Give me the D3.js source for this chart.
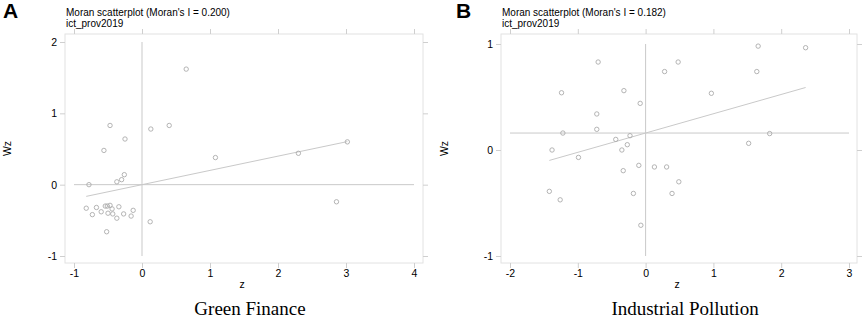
<!DOCTYPE html>
<html>
<head>
<meta charset="utf-8">
<script src="https://cdn.jsdelivr.net/npm/d3@7"></script>
<style>
  body { margin: 0; background: #fff; }
  svg { display: block; font-family: "Liberation Sans", Arial, sans-serif; }
</style>
</head>
<body>
<svg id="chart" width="865" height="319"></svg>
<script>
// panel A - green finance
const zA = [0.65, -0.47, -0.25, -0.56, 0.13, 0.40, 1.08, -0.26, -0.30, -0.37, -0.78,
  -0.82, -0.73, -0.67, -0.60, -0.54, -0.51, -0.47, -0.44, -0.50, -0.43, -0.34, -0.37,
  -0.27, -0.16, -0.13, 0.12, -0.52, 3.02, 2.30, 2.86];
const wzA = [1.62, 0.83, 0.64, 0.48, 0.78, 0.83, 0.38, 0.14, 0.07, 0.04, 0.00,
  -0.33, -0.42, -0.32, -0.38, -0.30, -0.30, -0.29, -0.34, -0.40, -0.41, -0.31, -0.47,
  -0.41, -0.44, -0.36, -0.52, -0.66, 0.60, 0.44, -0.24];

// panel B - industrial pollution
const zB = [-0.70, -1.24, -0.32, -0.08, -0.72, -0.72, -1.22, -0.23, -0.44, -0.27, -0.35,
  -1.38, -0.99, 0.28, 0.48, -0.33, -0.10, 0.13, 0.31, 0.49, 0.39, -0.18, -1.42, -1.26,
  -0.07, 1.66, 2.36, 1.64, 0.97, 1.83, 1.52];
const wzB = [0.83, 0.54, 0.56, 0.44, 0.34, 0.195, 0.16, 0.135, 0.10, 0.05, 0.00,
  0.00, -0.07, 0.74, 0.83, -0.195, -0.145, -0.16, -0.16, -0.30, -0.41, -0.41, -0.39, -0.47,
  -0.71, 0.98, 0.965, 0.74, 0.535, 0.155, 0.063];

const moranI = [0.200, 0.182];
const meanWz = [0, 0.16];
const xTicksA = [-1, 0, 1, 2, 3, 4];
const yTicksA = [-1, 0, 1, 2];
const xTicksB = [-2, -1, 0, 1, 2, 3];
const yTicksB = [-1, 0, 1];
const letters = ['A', 'B'];
const captions = ['Green Finance', 'Industrial Pollution'];
const subtitle = 'ict_prov2019';

const svg = d3.select('#chart');

const panels = [
  { z: zA, wz: wzA, xt: xTicksA, yt: yTicksA,
    frame: { l: 65, r: 423, t: 34, b: 263 },
    xr: [74, 414], yr: [256, 42], letterX: 3, wzX: 11 },
  { z: zB, wz: wzB, xt: xTicksB, yt: yTicksB,
    frame: { l: 501, r: 857, t: 34, b: 263 },
    xr: [510, 849], yr: [256, 44], letterX: 456, wzX: 448 }
];

const lineCol = '#c9c9c9';
const frameCol = '#e2e2e2';
const ptCol = '#ababab';
const plain = d => String(d); // hyphen minus like the original

panels.forEach((p, i) => {
  const f = p.frame;
  const x = d3.scaleLinear().domain(d3.extent(p.xt)).range(p.xr);
  const y = d3.scaleLinear().domain(d3.extent(p.yt)).range(p.yr);

  // panel letter + titles
  svg.append('text')
    .attr('x', p.letterX).attr('y', 18)
    .attr('font-size', 21).attr('font-weight', 'bold')
    .text(letters[i]);
  svg.append('text')
    .attr('x', f.l + 1).attr('y', 15.5)
    .attr('font-size', 10)
    .text(`Moran scatterplot (Moran's I = ${moranI[i].toFixed(3)})`);
  svg.append('text')
    .attr('x', f.l + 1).attr('y', 27)
    .attr('font-size', 10)
    .text(subtitle);

  // frame
  svg.append('rect')
    .attr('x', f.l).attr('y', f.t)
    .attr('width', f.r - f.l).attr('height', f.b - f.t)
    .attr('fill', 'none').attr('stroke', frameCol);

  // axes
  const styleAxis = (g) => {
    g.select('.domain').remove();
    g.selectAll('line').attr('stroke', '#cfcfcf');
    g.selectAll('text').attr('fill', '#000').attr('font-size', 10.5)
      .attr('font-family', '"Liberation Sans", Arial, sans-serif');
  };
  svg.append('g').attr('transform', `translate(0,${f.b})`)
    .call(d3.axisBottom(x).tickValues(p.xt).tickSize(5).tickPadding(2).tickFormat(plain))
    .call(styleAxis);
  svg.append('g').attr('transform', `translate(0,${f.t})`)
    .call(d3.axisTop(x).tickValues(p.xt).tickSize(5).tickFormat(''))
    .call(styleAxis);
  svg.append('g').attr('transform', `translate(${f.l},0)`)
    .call(d3.axisLeft(y).tickValues(p.yt).tickSize(5).tickPadding(3).tickFormat(plain))
    .call(styleAxis);
  svg.append('g').attr('transform', `translate(${f.r},0)`)
    .call(d3.axisRight(y).tickValues(p.yt).tickSize(5).tickFormat(''))
    .call(styleAxis);

  // axis titles
  svg.append('text')
    .attr('x', (f.l + f.r) / 2 - 2).attr('y', 288)
    .attr('text-anchor', 'middle').attr('font-size', 10.5)
    .text('z');
  svg.append('text')
    .attr('transform', `translate(${p.wzX},${(f.t + f.b) / 2}) rotate(-90)`)
    .attr('text-anchor', 'middle').attr('font-size', 10.5)
    .text('Wz');

  // reference lines at means
  const [x0, x1] = d3.extent(p.xt);
  const [y0, y1] = d3.extent(p.yt);
  svg.append('line')
    .attr('x1', x(x0)).attr('x2', x(x1))
    .attr('y1', y(meanWz[i])).attr('y2', y(meanWz[i]))
    .attr('stroke', lineCol);
  svg.append('line')
    .attr('x1', x(0)).attr('x2', x(0))
    .attr('y1', y(y0)).attr('y2', y(y1))
    .attr('stroke', lineCol);

  // fitted line, slope = Moran's I
  const zr = d3.extent(p.z);
  svg.append('path')
    .datum(zr)
    .attr('fill', 'none').attr('stroke', lineCol)
    .attr('d', d3.line()
      .x(d => x(d))
      .y(d => y(meanWz[i] + moranI[i] * d)));

  // points
  svg.append('g').selectAll('circle')
    .data(p.z.map((d, k) => ({ z: d, wz: p.wz[k] })))
    .join('circle')
    .attr('cx', d => x(d.z))
    .attr('cy', d => y(d.wz))
    .attr('r', 2.2)
    .attr('fill', 'none')
    .attr('stroke', ptCol)
    .attr('stroke-width', 0.9);

  // caption
  svg.append('text')
    .attr('x', (f.l + f.r) / 2 + 6).attr('y', 315)
    .attr('text-anchor', 'middle')
    .attr('font-family', '"Liberation Serif", "Times New Roman", serif')
    .attr('font-size', 19)
    .text(captions[i]);
});
</script>
</body>
</html>
